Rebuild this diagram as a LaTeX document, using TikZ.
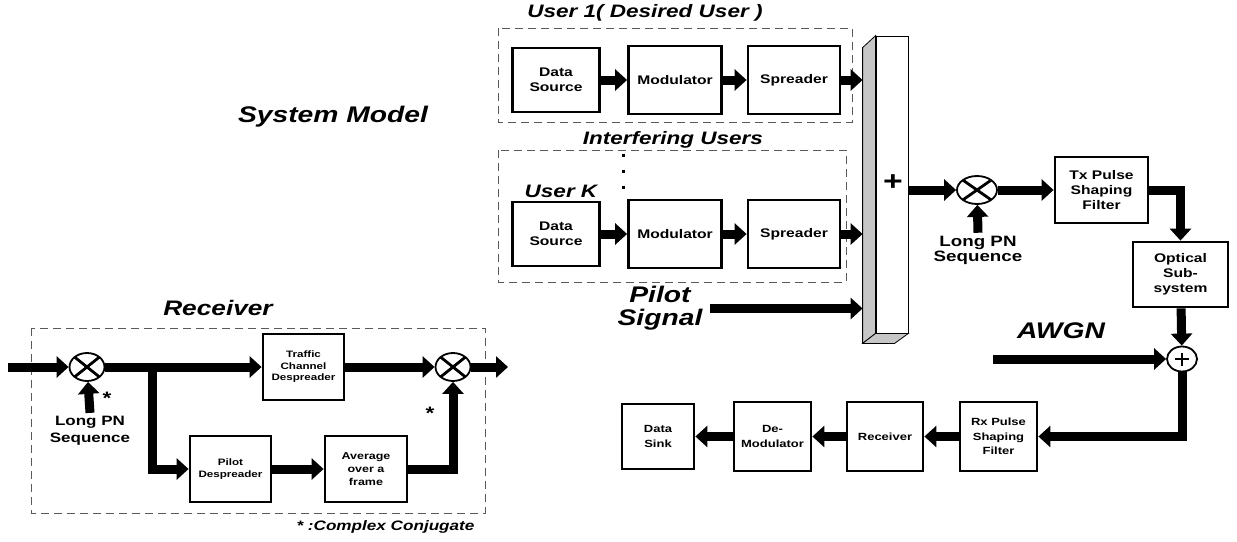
\documentclass[tikz,border=0pt]{standalone}
\usepackage{fontspec}
\setmainfont{Liberation Sans}[FakeStretch=1.25]
\usetikzlibrary{arrows.meta, calc, shapes.geometric}
\newcommand{\sz}[2]{\fontsize{#1}{#2}\selectfont}
\tikzset{
  blk/.style={draw, line width=2.8pt, align=center, inner sep=1pt, font=\bfseries\sz{12.5}{15}},
  lowblk/.style={blk, font=\bfseries\sz{10.4}{14.5}},
  flow/.style={line width=9pt, -{Triangle[length=12pt,width=21pt]}},
  mult/.style={ellipse, draw, line width=1.8pt, minimum width=38, minimum height=28, inner sep=0pt,
    path picture={\draw[line width=2.8pt] (path picture bounding box.north west) -- (path picture bounding box.south east)
      (path picture bounding box.south west) -- (path picture bounding box.north east);}},
  adder/.style={ellipse, draw, line width=1.8pt, minimum width=30, minimum height=25, inner sep=0pt,
    path picture={\draw[line width=2.8pt] ([xshift=-7pt]path picture bounding box.center) -- ([xshift=7pt]path picture bounding box.center)
      ([yshift=-6.5pt]path picture bounding box.center) -- ([yshift=6.5pt]path picture bounding box.center);}},
  grp/.style={draw=gray!70!black, line width=0.8pt, dash pattern=on 8pt off 5pt},
  ttl/.style={font=\bfseries\itshape\sz{18}{20}},
  big/.style={font=\bfseries\itshape\sz{22.6}{23}, align=center},
  pn/.style={font=\bfseries\sz{15}{15}, align=center},
  star/.style={font=\bfseries\sz{18}{18}, inner sep=0pt},
}
\begin{document}
\begin{tikzpicture}[x=1pt,y=-1pt]
\useasboundingbox (0,0) rectangle (1237,541);

\node[big] (sysm) at (333,117) {System Model};

% users
\node[ttl] (u1t) at (645,13) {User 1( Desired User )};
\draw[grp] (498,28) rectangle (852,122);
\node[blk, minimum width=87, minimum height=64] (ds1) at (556,80) {Data\\Source};
\node[blk, minimum width=93, minimum height=68] (mod1) at (675,80) {Modulator};
\node[blk, minimum width=92, minimum height=68] (spr1) at (794,80) {Spreader};

\node[ttl] (iut) at (673,140) {Interfering Users};
\draw[grp] (498,150) rectangle (846,282);
\foreach \y in {155,171,187}
  \fill (621.5,\y-1.5) rectangle ++(3,3);
\node[ttl] (ukt) at (561,191) {User K};
\node[blk, minimum width=87, minimum height=64] (ds2) at (556,234) {Data\\Source};
\node[blk, minimum width=93, minimum height=68] (mod2) at (675,234) {Modulator};
\node[blk, minimum width=92, minimum height=68] (spr2) at (794,234) {Spreader};

% summing bar
\node[draw, line width=0.8pt, fill=white, minimum width=32, minimum height=297, inner sep=0pt] (sum) at (892,184.5) {};
\draw[line width=0.8pt, fill=gray!45] (sum.north west) -- ++(-13,12) -- ($(sum.south west)+(-13,10)$) -- (sum.south west) -- cycle;
\draw[line width=0.8pt, fill=gray!45] (sum.south west) -- ++(-13,10) -- ++(32,0) -- (sum.south east) -- cycle;
\coordinate (barL) at ($(sum.west)+(-13,0)$);
\node[font=\bfseries\sz{27}{27}, inner sep=0pt] (plus) at (893,183) {+};

\node[big] (pil) at (660,308.5) {Pilot\\Signal};

\draw[flow] (ds1) -- (mod1);
\draw[flow] (mod1) -- (spr1);
\draw[flow] (spr1.east) -- (spr1.east -| barL);
\draw[flow] (ds2) -- (mod2);
\draw[flow] (mod2) -- (spr2);
\draw[flow] (spr2.east) -- (spr2.east -| barL);
\draw[flow] ([xshift=4pt]pil.east) -- (pil.east -| barL);

% channel
\node[mult, minimum width=40] (m1) at (977,190) {};
\node[pn] (pn1) at (978,250.5) {Long PN\\Sequence};
\node[blk, minimum width=93, minimum height=66] (tx) at (1101.5,190) {Tx Pulse\\Shaping\\Filter};
\node[blk, minimum width=95, minimum height=65] (opt) at (1180.5,274.5) {Optical\\Sub-\\system};
\node[big] (awgn) at (1061,331) {AWGN};
\node[adder] (add) at (1182,359) {};
\coordinate (nin) at (993,359);

\draw[flow] (m1 -| sum.east) -- (m1);
\draw[flow] (pn1.north) -- (m1);
\draw[flow] (m1) -- (m1 -| tx.west);
\draw[flow] (tx.east) -| (opt.north);
\draw[flow] (opt) -- (add);
\draw[flow] (nin) -- (add);

% receiving chain
\node[lowblk, minimum width=77, minimum height=69] (rx) at (998.5,436.5) {Rx Pulse\\Shaping\\Filter};
\node[lowblk, minimum width=76, minimum height=69] (rcv) at (885,436.5) {Receiver};
\node[lowblk, minimum width=77, minimum height=69] (dem) at (772.5,436.5) {De-\\Modulator};
\node[lowblk, minimum width=72, minimum height=65] (snk) at (658,436.5) {Data\\Sink};

\draw[flow] (add.south) |- (rx.east);
\draw[flow] (rx) -- (rcv);
\draw[flow] (rcv) -- (dem);
\draw[flow] (dem) -- (snk);

% receiver detail
\node[font=\bfseries\itshape\sz{21}{22}] (rect) at (218,308) {Receiver};
\draw[grp] (31,328) rectangle (485,513);
\node[mult, minimum width=35] (r1) at (87,367) {};
\node[mult, minimum width=35] (r2) at (453,367) {};
\node[star] (st1) at (107,398) {*};
\node[star] (st2) at (430,413) {*};
\node[pn, font=\bfseries\sz{13.6}{17}] (pn2) at (90,431) {Long PN\\Sequence};
\node[blk, font=\bfseries\sz{9.3}{11.5}, minimum width=81, minimum height=66] (tcd) at (303.5,367) {Traffic\\Channel\\Despreader};
\node[blk, font=\bfseries\sz{9.3}{11.5}, minimum width=81, minimum height=66] (pd) at (230.5,469) {Pilot\\Despreader};
\node[blk, font=\bfseries\sz{10}{13}, minimum width=82, minimum height=66] (avg) at (366,469) {Average\\over a\\frame};
\coordinate (rin) at (8,367);
\coordinate (rout) at (508,367);
\coordinate (split) at (152,367);
\node[font=\bfseries\itshape\sz{13.7}{15}, anchor=east] (cc) at (478,527) {* :Complex Conjugate};

\draw[flow] (rin) -- (r1);
\draw[flow] (pn2.north) -- (r1);
\draw[flow] (r1) -- (tcd);
\draw[flow] (split) |- (pd.west);
\draw[flow] (pd) -- (avg);
\draw[flow] (avg.east) -| (r2.south);
\draw[flow] (tcd) -- (r2);
\draw[flow] (r2) -- (rout);
\end{tikzpicture}
\end{document}
